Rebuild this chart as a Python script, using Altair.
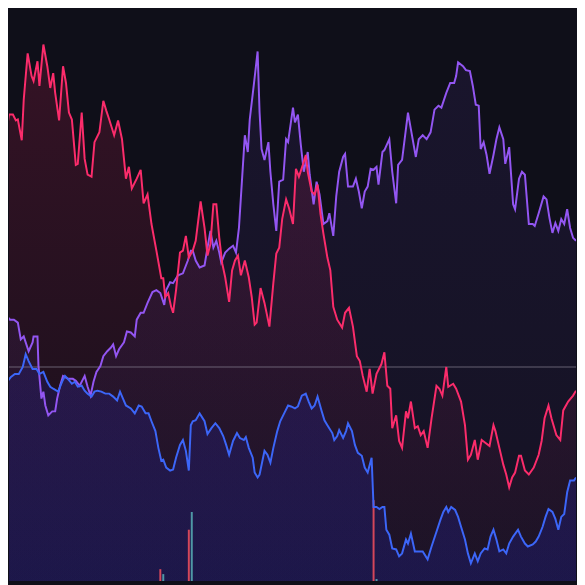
import altair as alt
import pandas as pd

# ---- data (x: time index, value: price units) ----
red_t = [0,3,5,8,12,15,17,21,23,27,31,33,37,39,43,47,50,53,55,59,63,66,69,72,76,78,82,85,88,92,95,100,104,107,110,115,119,123,127,130,133,138,142,145,149,153,158,163,165,167,170,173,175,178,182,185,188,191,195,198,203,207,210,213,216,219,222,225,228,232,235,238,241,244,248,252,255,258,260,264,268,273,277,280,283,286,290,293,297,300,303,307,310,312,316,319,322,325,328,332,335,338,342,347,350,354,358,362,365,368,372,375,378,382,387,390,393,396,398,402,405,408,412,414,417,421,424,427,430,434,438,443,446,449,453,455,460,463,468,472,475,478,482,485,489,493,497,501,503,507,511,514,517,520,523,527,529,533,537,542,547,550,553,557,560,565,569,572,577,582,585]
red_px = [102,105,133,112,112,118,117,138,97,50,73,78,58,83,41,63,85,70,90,118,63,80,110,117,163,162,110,157,173,175,140,130,98,108,117,133,118,137,177,165,187,177,168,202,193,223,250,278,278,297,293,307,313,290,252,250,235,257,250,240,200,227,255,243,203,203,237,263,277,302,270,260,255,275,260,277,297,325,323,288,303,327,283,253,247,218,198,207,223,167,175,163,153,170,190,193,183,213,233,257,270,307,320,328,313,308,327,357,362,377,393,370,395,375,365,353,387,390,430,417,443,450,413,420,403,430,428,437,433,450,420,387,390,397,368,388,385,390,403,427,462,457,442,462,442,445,448,427,433,450,467,477,490,480,475,458,458,473,477,470,457,443,420,407,420,437,442,412,403,397,392]

purple_t = [0,3,5,9,13,17,20,23,25,28,32,33,37,38,41,43,45,48,52,55,57,60,63,68,73,76,80,85,88,91,94,97,101,104,108,112,114,117,120,125,128,132,136,138,142,145,149,154,158,162,166,168,172,175,180,185,190,193,195,198,202,207,210,213,216,219,222,224,228,232,236,239,242,245,248,251,253,257,261,263,265,268,272,274,277,280,283,287,290,292,297,299,302,305,308,312,314,318,321,324,328,332,334,338,341,344,348,350,353,358,361,364,367,370,373,376,379,382,384,388,390,395,398,402,404,408,414,417,422,425,429,433,437,441,445,448,453,457,461,463,465,470,473,477,480,483,486,488,491,494,497,501,504,507,511,513,517,521,523,527,530,533,537,541,543,547,552,555,558,561,564,567,570,573,576,579,582,585]
purple_px = [310,300,315,320,320,323,340,337,343,352,343,337,337,367,400,393,407,417,413,413,400,387,377,380,380,382,387,377,388,397,383,373,367,357,352,348,345,357,350,343,332,333,337,320,313,313,303,292,290,293,305,290,282,283,275,273,260,250,250,260,267,265,247,230,247,240,252,262,252,248,245,252,227,180,133,150,117,83,48,110,147,158,140,170,203,230,180,178,137,140,105,120,112,143,170,150,173,203,180,193,223,220,212,235,195,170,155,152,185,185,177,190,207,190,185,167,168,165,183,150,148,137,170,202,163,158,110,127,155,137,133,137,130,107,103,105,90,80,80,73,59,63,67,68,83,102,103,147,140,153,172,153,137,125,137,162,145,203,208,177,170,173,223,223,225,212,195,198,217,232,222,230,218,223,208,227,237,240]

blue_t = [0,3,6,10,14,18,22,25,28,32,36,39,43,47,50,53,58,62,65,68,72,75,78,82,85,88,92,95,98,102,106,110,114,118,121,124,127,132,136,140,143,147,150,153,157,160,163,165,168,172,175,178,182,185,188,191,193,195,198,202,207,210,214,218,222,226,229,232,236,240,243,247,249,252,256,258,261,263,268,271,274,277,281,284,288,292,295,299,302,306,310,313,316,319,322,326,329,332,337,339,342,344,348,351,353,357,360,363,367,370,373,377,379,382,385,388,390,392,395,398,402,405,408,412,414,417,421,425,429,434,438,443,447,450,453,455,458,462,465,468,472,475,478,482,485,488,492,495,498,501,504,507,511,514,517,521,526,529,533,536,541,544,547,551,554,557,561,564,567,570,573,576,579,583,585]
blue_px = [375,373,383,378,375,375,368,355,362,370,370,375,373,383,388,390,393,383,377,380,385,383,388,387,392,395,398,393,392,393,395,395,398,402,393,400,407,410,415,407,408,415,415,423,433,450,463,462,470,473,472,460,447,442,453,473,427,423,422,415,423,436,430,425,430,438,447,457,443,435,440,442,439,450,460,475,480,477,453,457,465,450,433,423,415,407,408,410,408,397,395,403,410,407,398,412,422,427,435,442,438,432,440,433,425,433,447,455,458,470,475,460,510,510,512,510,510,533,538,552,553,560,557,543,547,537,555,555,555,563,550,535,523,515,510,515,510,513,520,530,543,557,567,557,565,557,552,553,540,533,543,555,553,557,547,540,533,540,547,550,548,545,540,530,520,512,515,522,533,520,517,495,483,483,480]

# volume spikes at the bottom
vol_t = [162, 165, 191, 194, 379, 382]
vol_px = [573, 578, 533, 515, 503, 583]
vol_side = ["sell", "buy", "sell", "buy", "sell", "buy"]

ref_px = 368  # horizontal reference level

TOP = 585
def to_val(px):
    return [TOP - p for p in px]

red = pd.DataFrame({"t": red_t, "v": to_val(red_px)})
purple = pd.DataFrame({"t": purple_t, "v": to_val(purple_px)})
blue = pd.DataFrame({"t": blue_t, "v": to_val(blue_px)})
vol = pd.DataFrame({"t": vol_t, "v": to_val(vol_px), "side": vol_side})
ref = pd.DataFrame({"v": [TOP - ref_px]})

BG = "#0f0f19"
RED = "#fb2c6b"
PURPLE = "#9356f2"
BLUE = "#3c66f8"

# visible window of the series (the page's 8px margin hides the first 8 units)
xs = alt.Scale(domain=[8, 585], nice=False, zero=False)
ys = alt.Scale(domain=[0, 577], nice=False, zero=False)
X = alt.X("t:Q", scale=xs, axis=None)
Y = alt.Y("v:Q", scale=ys, axis=None)


def grad(rgb, a_top, a_bot):
    return alt.Gradient(
        gradient="linear",
        x1=0, x2=0, y1=0, y2=1,
        stops=[
            alt.GradientStop(color=f"rgba({rgb},{a_top})", offset=0),
            alt.GradientStop(color=f"rgba({rgb},{a_bot})", offset=1),
        ],
    )

red_area = alt.Chart(red).mark_area(clip=True, color=grad("240,35,95", 0.17, 0.03)).encode(x=X, y=Y)
purple_area = alt.Chart(purple).mark_area(clip=True, color=grad("130,80,240", 0.09, 0.05)).encode(x=X, y=Y)
blue_area = alt.Chart(blue).mark_area(clip=True, color=grad("35,45,250", 0.13, 0.17)).encode(x=X, y=Y)

bars = alt.Chart(vol).mark_rule(strokeWidth=2, clip=True).encode(
    x=X, y=Y, y2=alt.datum(0),
    color=alt.Color("side:N", scale=alt.Scale(domain=["sell", "buy"], range=["#d4475a", "#4f98a6"]), legend=None),
)

hline = alt.Chart(ref).mark_rule(color="#8a8294", strokeWidth=1, opacity=0.7).encode(y=alt.Y("v:Q", scale=ys, axis=None))

red_line = alt.Chart(red).mark_line(clip=True, color=RED, strokeWidth=2).encode(x=X, y=Y)
purple_line = alt.Chart(purple).mark_line(clip=True, color=PURPLE, strokeWidth=2).encode(x=X, y=Y)
blue_line = alt.Chart(blue).mark_line(clip=True, color=BLUE, strokeWidth=2).encode(x=X, y=Y)

chart = alt.layer(
    red_area, purple_area, blue_area, bars, hline, purple_line, red_line, blue_line
).properties(
    width=577, height=577,
    autosize=alt.AutoSizeParams(type="fit", contains="padding"),
    padding=0,
    background=BG,
).configure_view(stroke=None)

chart.save("out.html", embed_options={"renderer": "svg", "actions": False})
